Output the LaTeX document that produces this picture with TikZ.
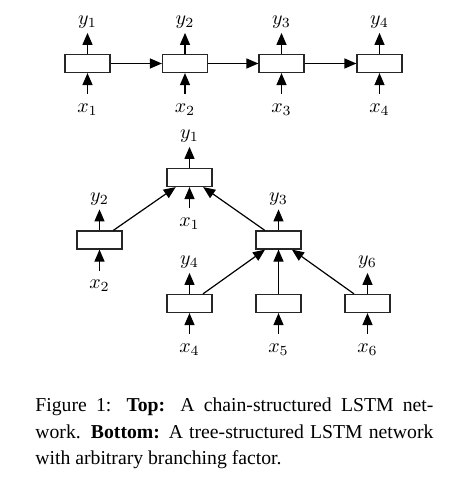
\documentclass[tikz,border=0pt]{standalone}
\usepackage[no-math]{fontspec}
\setmainfont{Liberation Serif}
\usetikzlibrary{arrows.meta,positioning}
\tolerance=10000
\hbadness=10000
\begin{document}
\begin{tikzpicture}[x=0.5pt,y=-0.5pt,
  cell/.style={draw=black!85, line width=0.6pt, minimum width=22.5pt, minimum height=9pt, inner sep=0pt},
  ylab/.style={inner xsep=0pt, inner ysep=2pt, font=\fontsize{10}{12}\selectfont},
  xlab/.style={inner xsep=0pt, inner ysep=4.5pt, font=\fontsize{10}{12}\selectfont},
  arr/.style={line width=0.6pt, -{Triangle[length=6pt,width=5pt]}},
  captext/.style={anchor=base west, inner sep=0pt, text width=199pt, align=justify,
    font=\fontsize{9.85}{13.15}\selectfont}]
\useasboundingbox (0,0) rectangle (463,480);
% ---------- top chain ----------
\node[cell] (c1) at (87.5,63.5) {};
\node[cell] (c2) at (185,63.5) {};
\node[cell] (c3) at (281.5,63.5) {};
\node[cell] (c4) at (379.5,63.5) {};
\foreach \i in {1,2,3,4}{
  \node[ylab, above=10.5pt of c\i] (cy\i) {$y_\i$};
  \node[xlab, below=10.5pt of c\i] (cx\i) {$x_\i$};
  \draw[arr] (c\i.north) -- (cy\i.south);
  \draw[arr] (cx\i.north) -- (c\i.south);
}
\draw[arr] (c1) -- (c2);
\draw[arr] (c2) -- (c3);
\draw[arr] (c3) -- (c4);
% ---------- tree ----------
\node[cell] (t1) at (189.5,177.5) {};
\node[cell] (t2) at (99.5,240) {};
\node[cell] (t3) at (278.5,240) {};
\node[cell] (t4) at (189.5,303.5) {};
\node[cell] (t5) at (278.5,303.5) {};
\node[cell] (t6) at (367.5,303.5) {};
\foreach \i in {1,2,3,4,6}{
  \node[ylab, above=10.5pt of t\i] (ty\i) {$y_\i$};
  \draw[arr] (t\i.north) -- (ty\i.south);
}
\foreach \i in {1,2,4,5,6}{
  \node[xlab, below=10.5pt of t\i] (tx\i) {$x_\i$};
  \draw[arr] (tx\i.north) -- (t\i.south);
}
\draw[arr] (t2) -- (t1);
\draw[arr] (t3) -- (t1);
\draw[arr] (t4) -- (t3);
\draw[arr] (t5) -- (t3);
\draw[arr] (t6) -- (t3);
% ---------- caption ----------
\node[captext] (cap) at (35,411.7) {Figure 1: \textbf{Top:} A chain-structured LSTM net-\linebreak work. \textbf{Bottom:} A tree-structured LSTM network\linebreak with arbitrary branching factor.};
\end{tikzpicture}
\end{document}
